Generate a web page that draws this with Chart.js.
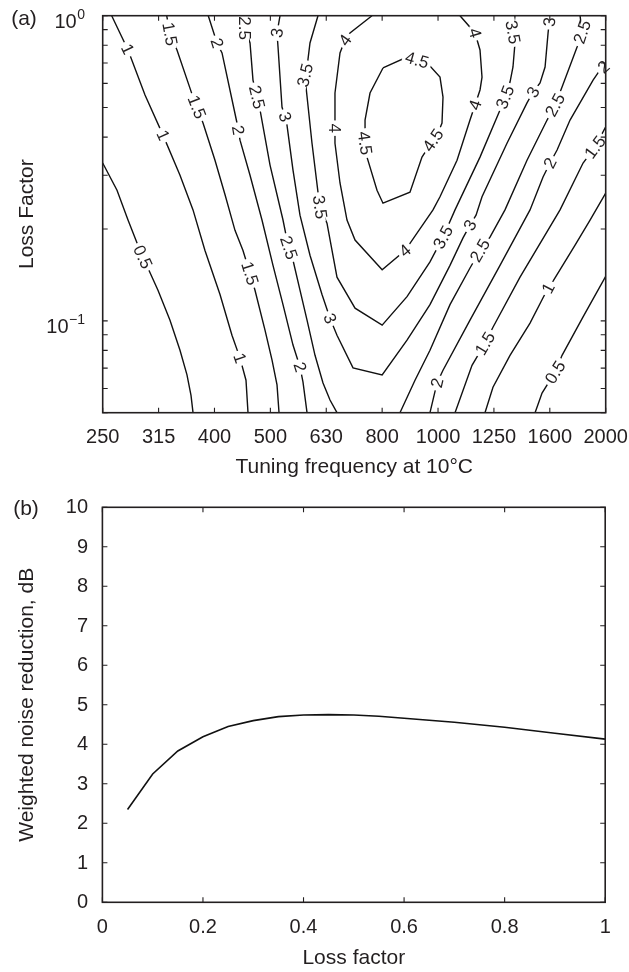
<!DOCTYPE html>
<html><head><meta charset="utf-8">
<script src="https://cdn.jsdelivr.net/npm/chart.js@4.4.0/dist/chart.umd.min.js"></script>
<style>
html,body{margin:0;padding:0;background:#fff;}
#wrap{position:relative;width:629px;height:972px;overflow:hidden;}
#ca{position:absolute;left:0;top:0;}
#cb{position:absolute;left:0;top:480px;}
</style></head><body>
<div id="wrap"><canvas id="ca" width="629" height="480"></canvas><canvas id="cb" width="629" height="492"></canvas></div>
<script>
// ---------- Panel (a) data ----------
const freqLabels = ['250','315','400','500','630','800','1000','1250','1600','2000'];
const freqIndex = [0,1,2,3,4,5,6,7,8,9];
const etaTicks = [0.05,0.06,0.07,0.08,0.09,0.1,0.2,0.3,0.4,0.5,0.6,0.7,0.8,0.9,1];
const etaMajor = [0.1, 1];
const etaMajorExp = ['\u22121', '0'];

// contour polylines: [frequency index, loss factor]
const c05Left = [[0,0.329],[0.256,0.268],[0.453,0.214],[0.667,0.170],[0.989,0.126],[1.204,0.1005],[1.383,0.0801],[1.508,0.0665],[1.580,0.0570],[1.616,0.05]];
const c1Left = [[0.161,1.0],[0.453,0.772],[0.757,0.550],[1.079,0.406],[1.383,0.300],[1.616,0.231],[1.830,0.170],[2.099,0.122],[2.313,0.0897],[2.457,0.0755],[2.564,0.0639],[2.600,0.05]];
const c15Left = [[1.145,1.0],[1.204,0.871],[1.329,0.772],[1.616,0.541],[1.795,0.445],[2.009,0.336],[2.189,0.259],[2.367,0.198],[2.510,0.170],[2.636,0.143],[2.725,0.126],[2.904,0.0932],[3.030,0.0743],[3.119,0.0617],[3.155,0.05]];
const c2Left = [[1.889,1.0],[2.045,0.814],[2.135,0.755],[2.403,0.445],[2.457,0.391],[2.636,0.300],[2.850,0.214],[3.047,0.152],[3.226,0.113],[3.405,0.0833],[3.530,0.0706],[3.584,0.0630],[3.656,0.05]];
const c25Left = [[2.546,1.0],[2.546,0.911],[2.636,0.814],[2.689,0.615],[2.761,0.541],[2.815,0.491],[2.994,0.324],[3.226,0.214],[3.316,0.177],[3.405,0.158],[3.530,0.126],[3.656,0.1005],[3.799,0.0771],[3.942,0.0626],[4.067,0.055],[4.192,0.05]];
const c3 = [[3.173,1.0],[3.119,0.878],[3.137,0.790],[3.208,0.502],[3.262,0.466],[3.298,0.437],[3.405,0.312],[3.530,0.222],[3.709,0.164],[3.924,0.122],[4.067,0.102],[4.192,0.0897],[4.479,0.0701],[5.0,0.0665],[5.445,0.0864],[5.856,0.113],[6.214,0.152],[6.447,0.187],[6.572,0.206],[6.680,0.222],[6.787,0.255],[7.234,0.382],[7.592,0.518],[7.700,0.562],[7.825,0.602],[7.915,0.679],[7.969,0.878],[8.004,1.0]];
const c35 = [[3.852,1.0],[3.709,0.814],[3.656,0.679],[3.620,0.639],[3.638,0.584],[3.745,0.382],[3.852,0.264],[3.888,0.236],[4.013,0.209],[4.192,0.139],[4.515,0.110],[5.0,0.0968],[5.445,0.120],[5.856,0.156],[6.089,0.188],[6.304,0.231],[6.751,0.344],[7.109,0.491],[7.198,0.541],[7.288,0.606],[7.341,0.679],[7.377,0.814],[7.341,0.884],[7.377,1.0]];
const c4 = [[4.818,1.0],[4.425,0.878],[4.335,0.832],[4.246,0.755],[4.156,0.558],[4.156,0.428],[4.156,0.382],[4.246,0.283],[4.371,0.214],[4.515,0.184],[5.0,0.147],[5.409,0.170],[5.910,0.231],[6.035,0.255],[6.340,0.336],[6.572,0.455],[6.662,0.510],[6.751,0.571],[6.787,0.629],[6.751,0.772],[6.662,0.878],[6.393,1.0]];
const c45 = [[5.015,0.674],[5.445,0.732],[5.624,0.716],[5.856,0.684],[6.035,0.629],[6.089,0.541],[6.071,0.445],[6.0,0.413],[5.910,0.391],[5.713,0.344],[5.498,0.264],[5.015,0.243],[4.908,0.268],[4.729,0.344],[4.694,0.382],[4.694,0.455],[4.783,0.558],[5.015,0.674]];
const c25Right = [[5.319,0.05],[5.588,0.0639],[5.856,0.0801],[6.214,0.113],[6.572,0.149],[6.751,0.170],[6.930,0.188],[7.198,0.231],[7.592,0.336],[7.951,0.455],[8.094,0.510],[8.219,0.584],[8.488,0.790],[8.577,0.884],[8.541,1.0]];
const c2Right = [[5.856,0.05],[5.982,0.0626],[6.089,0.0689],[6.572,0.1005],[7.109,0.152],[7.646,0.231],[7.879,0.296],[8.004,0.329],[8.130,0.363],[8.362,0.455],[8.774,0.615],[8.899,0.664],[9.0,0.689]];
const c15Right = [[6.304,0.05],[6.608,0.0715],[6.840,0.0844],[6.983,0.0953],[7.467,0.139],[8.183,0.231],[8.595,0.329],[8.809,0.371],[9.0,0.432]];
const c1Right = [[6.840,0.05],[6.983,0.0606],[7.288,0.0771],[7.646,0.0983],[7.879,0.119],[7.969,0.128],[8.058,0.135],[8.452,0.177],[8.720,0.214],[9.0,0.262]];
const c05Right = [[7.736,0.05],[7.861,0.058],[8.094,0.0679],[8.219,0.0771],[8.595,0.103],[9.0,0.140]];

const contourLevels = [0.5,1,1.5,2,2.5,3,3.5,4,4.5,2.5,2,1.5,1,0.5];
const contourLines = [c05Left,c1Left,c15Left,c2Left,c25Left,c3,c35,c4,c45,c25Right,c2Right,c15Right,c1Right,c05Right];

// inline contour labels: [level, frequency index, loss factor]
const contourLabels = [
 [0.5,0.72,0.162],[0.5,8.094,0.0679],
 [1,0.453,0.778],[1,1.079,0.406],[1,2.457,0.0755],[1,7.969,0.128],
 [1.5,1.204,0.871],[1.5,1.687,0.502],[1.5,2.636,0.143],[1.5,6.840,0.0844],[1.5,8.809,0.371],
 [2,2.045,0.814],[2,2.44,0.422],[2,3.530,0.0706],[2,5.982,0.0626],[2,8.004,0.329],[2,8.899,0.700],
 [2.5,2.546,0.911],[2.5,2.761,0.541],[2.5,3.35,0.174],[2.5,6.751,0.170],[2.5,8.094,0.510],[2.5,8.577,0.884],
 [3,3.119,0.878],[3,3.262,0.466],[3,4.085,0.102],[3,6.572,0.206],[3,7.700,0.562],[3,8.004,0.954],
 [3.5,3.620,0.639],[3.5,3.888,0.236],[3.5,6.089,0.188],[3.5,7.198,0.541],[3.5,7.341,0.884],
 [4,4.335,0.832],[4,4.156,0.428],[4,5.409,0.170],[4,6.662,0.510],[4,6.662,0.878],
 [4.5,5.624,0.716],[4.5,5.910,0.391],[4.5,4.694,0.382]
];

// ---------- Panel (b) data ----------
const lossFactor = [0.05,0.1,0.15,0.2,0.25,0.3,0.35,0.4,0.45,0.5,0.55,0.6,0.7,0.8,0.9,1.0];
const noiseReduction = [2.35,3.25,3.83,4.19,4.45,4.60,4.70,4.74,4.75,4.74,4.71,4.66,4.56,4.43,4.28,4.13];
const xTicksB = [0,0.2,0.4,0.6,0.8,1];
const xTickLabelsB = ['0','0.2','0.4','0.6','0.8','1'];
const yTicksB = [0,1,2,3,4,5,6,7,8,9,10];

// ---------- helpers ----------
const FONT = '"Liberation Sans", Arial, Helvetica, sans-serif';
const TXT = '#231f20';

function drawFrame(chart, xTicks, yTicks, len) {
  const {ctx, chartArea:{left,right,top,bottom}} = chart;
  const xs = chart.scales.x, ys = chart.scales.y;
  ctx.save();
  ctx.strokeStyle = TXT; ctx.lineWidth = 1.1;
  ctx.beginPath();
  xTicks.forEach(v => { const p = xs.getPixelForValue(v);
    ctx.moveTo(p,bottom); ctx.lineTo(p,bottom-len); ctx.moveTo(p,top); ctx.lineTo(p,top+len); });
  yTicks.forEach(v => { const p = ys.getPixelForValue(v);
    ctx.moveTo(left,p); ctx.lineTo(left+len,p); ctx.moveTo(right,p); ctx.lineTo(right-len,p); });
  ctx.stroke();
  ctx.lineWidth = 1.6;
  ctx.strokeRect(left,top,right-left,bottom-top);
  ctx.restore();
}
function drawText(ctx, txt, x, y, size, align, base, rot) {
  ctx.save();
  ctx.font = size + 'px ' + FONT; ctx.fillStyle = TXT;
  ctx.textAlign = align; ctx.textBaseline = base;
  ctx.translate(x,y); if (rot) ctx.rotate(rot);
  ctx.fillText(txt,0,0);
  ctx.restore();
}

const labelPlugin = {
  id: 'contourLabels',
  afterDatasetsDraw(chart) {
    const ctx = chart.ctx, xs = chart.scales.x, ys = chart.scales.y;
    ctx.save();
    ctx.font = '17px ' + FONT;
    ctx.textAlign = 'center'; ctx.textBaseline = 'middle';
    contourLabels.forEach(([lvl, lx, ly]) => {
      const px = xs.getPixelForValue(lx), py = ys.getPixelForValue(ly);
      let best = null;
      chart.data.datasets.forEach((ds, i) => {
        if (ds.level !== lvl) return;
        const pts = chart.getDatasetMeta(i).data;
        for (let k = 0; k < pts.length - 1; k++) {
          const a = pts[k], b = pts[k+1];
          const dx = b.x - a.x, dy = b.y - a.y, L2 = dx*dx + dy*dy;
          if (!L2) continue;
          let t = ((px-a.x)*dx + (py-a.y)*dy) / L2; t = Math.max(0, Math.min(1, t));
          const qx = a.x + t*dx, qy = a.y + t*dy, d = (qx-px)**2 + (qy-py)**2;
          if (!best || d < best.d) best = {d, qx, qy, ang: Math.atan2(dy, dx)};
        }
      });
      if (!best) return;
      let ang = best.ang;
      if (ang > Math.PI/2) ang -= Math.PI;
      if (ang < -Math.PI/2) ang += Math.PI;
      const txt = String(lvl), w = ctx.measureText(txt).width;
      ctx.save();
      ctx.translate(best.qx, best.qy); ctx.rotate(ang);
      ctx.fillStyle = '#fff'; ctx.fillRect(-w/2-3, -4, w+6, 8);
      ctx.fillStyle = TXT; ctx.fillText(txt, 0, 1);
      ctx.restore();
    });
    ctx.restore();
  }
};

const frameA = {
  id: 'frameA',
  afterDraw(chart) {
    const ctx = chart.ctx, {left,right,top,bottom} = chart.chartArea;
    const xs = chart.scales.x, ys = chart.scales.y;
    drawFrame(chart, freqIndex, etaTicks, 5);
    freqIndex.forEach((v,i) => drawText(ctx, freqLabels[i], xs.getPixelForValue(v), bottom+25, 20, 'center', 'middle'));
    etaMajor.forEach((v,i) => {
      const p = ys.getPixelForValue(v);
      ctx.save(); ctx.font = '14px ' + FONT; const sw = ctx.measureText(etaMajorExp[i]).width; ctx.restore();
      drawText(ctx, etaMajorExp[i], 85, p+3, 14, 'right', 'alphabetic');
      drawText(ctx, '10', 85 - sw - 0.5, p+12, 20, 'right', 'alphabetic');
    });
    drawText(ctx, 'Tuning frequency at 10\u00B0C', (left+right)/2, 467, 21, 'center', 'middle');
    drawText(ctx, 'Loss Factor', 33, (top+bottom)/2, 21, 'center', 'alphabetic', -Math.PI/2);
    drawText(ctx, '(a)', 24, 19, 21, 'center', 'middle');
  }
};

const frameB = {
  id: 'frameB',
  afterDraw(chart) {
    const ctx = chart.ctx, {left,right,top,bottom} = chart.chartArea;
    const xs = chart.scales.x, ys = chart.scales.y;
    drawFrame(chart, xTicksB, yTicksB, 5);
    xTicksB.forEach((v,i) => drawText(ctx, xTickLabelsB[i], xs.getPixelForValue(v), bottom+25, 20, 'center', 'middle'));
    yTicksB.forEach(v => drawText(ctx, String(v), 88, ys.getPixelForValue(v)+0.5, 20, 'right', 'middle'));
    drawText(ctx, 'Loss factor', (left+right)/2, bottom+56, 21, 'center', 'middle');
    drawText(ctx, 'Weighted noise reduction, dB', 33, (top+bottom)/2, 21, 'center', 'alphabetic', -Math.PI/2);
    drawText(ctx, '(b)', 26, 29, 21, 'center', 'middle');
  }
};

// ---------- Chart (a) ----------
const dsA = contourLines.map((pts, i) => ({
  level: contourLevels[i],
  data: pts.map(p => ({x: p[0], y: p[1]})),
  borderColor: '#111', borderWidth: 1.4, pointRadius: 0, fill: false, tension: 0
}));
new Chart(document.getElementById('ca'), {
  type: 'line',
  data: { datasets: dsA },
  options: {
    responsive: false, animation: false, devicePixelRatio: 1,
    layout: { padding: { top: 15.7, right: 23.3, left: 0, bottom: 0 } },
    plugins: { legend: { display: false }, tooltip: { enabled: false } },
    elements: { point: { radius: 0 } },
    scales: {
      x: { type: 'linear', min: 0, max: 9, ticks: { display: false }, grid: { display: false }, border: { display: false },
           afterFit(s) { s.height = 67.3; } },
      y: { type: 'logarithmic', min: 0.05, max: 1, ticks: { display: false }, grid: { display: false }, border: { display: false },
           afterFit(s) { s.width = 102.7; } }
    }
  },
  plugins: [labelPlugin, frameA]
});

// ---------- Chart (b) ----------
new Chart(document.getElementById('cb'), {
  type: 'line',
  data: { datasets: [{
    data: lossFactor.map((x,i) => ({x, y: noiseReduction[i]})),
    borderColor: '#111', borderWidth: 1.6, pointRadius: 0, fill: false, tension: 0
  }] },
  options: {
    responsive: false, animation: false, devicePixelRatio: 1,
    layout: { padding: { top: 27.3, right: 23.8, left: 0, bottom: 0 } },
    plugins: { legend: { display: false }, tooltip: { enabled: false } },
    scales: {
      x: { type: 'linear', min: 0, max: 1, ticks: { display: false }, grid: { display: false }, border: { display: false },
           afterFit(s) { s.height = 69.7; } },
      y: { type: 'linear', min: 0, max: 10, ticks: { display: false }, grid: { display: false }, border: { display: false },
           afterFit(s) { s.width = 102.4; } }
    }
  },
  plugins: [frameB]
});
</script>
</body></html>
